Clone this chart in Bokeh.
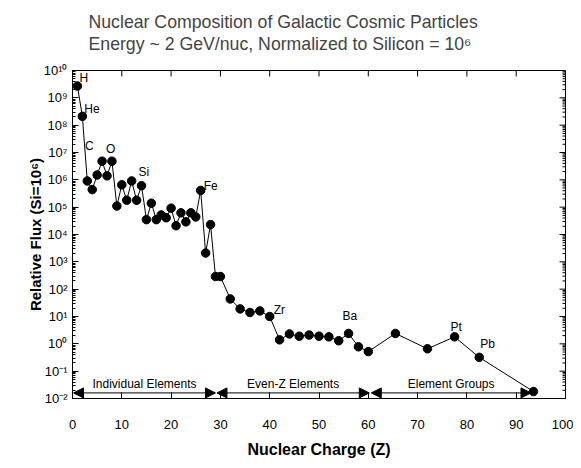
import math
from bokeh.plotting import figure
from bokeh.models import (ColumnDataSource, FixedTicker, Title,
                          Arrow, NormalHead, CustomJSTickFormatter)
from bokeh.embed import file_html
from bokeh.resources import INLINE
from bokeh.core.properties import value

# ---- data ----
charge = [1, 2, 3, 4, 5, 6, 7, 8, 9, 10, 11, 12, 13, 14, 15, 16, 17, 18, 19, 20,
          21, 22, 23, 24, 25, 26, 27, 28, 29, 30,
          32, 34, 36, 38, 40, 42, 44, 46, 48, 50, 52, 54, 56, 58, 60,
          65.5, 72, 77.5, 82.5, 93.5]
flux = [2.7e9, 2.1e8, 9.1e5, 4.4e5, 1.5e6, 4.8e6, 1.4e6, 4.8e6, 1.1e5, 6.6e5,
        1.8e5, 9.1e5, 1.8e5, 6.1e5, 3.5e4, 1.4e5, 3.5e4, 5.2e4, 4.1e4, 9.2e4,
        2.1e4, 6.2e4, 2.9e4, 6.2e4, 4.4e4, 4.1e5, 2.1e3, 2.3e4, 290, 290,
        44, 19, 14, 16, 10, 1.4, 2.3, 1.9, 2.1, 1.9, 1.8, 1.3, 2.4, 0.78, 0.52,
        2.4, 0.66, 1.8, 0.32, 0.018]

element_labels = ["H", "He", "C", "O", "Si", "Fe", "Zr", "Ba", "Pt", "Pb"]
element_charge = [1, 2, 6, 8, 14, 26, 40, 56, 77.5, 82.5]
element_flux = [2.7e9, 2.1e8, 4.8e6, 4.8e6, 6.1e5, 4.1e5, 10, 2.4, 1.8, 0.32]

region_names = ["Individual Elements", "Even-Z Elements", "Element Groups"]
region_start = [0.2, 29.3, 60.6]
region_end = [29.0, 60.2, 93.0]
region_level = [0.016, 0.016, 0.016]
region_text_level = [0.033, 0.033, 0.033]

x_ticks = [0, 10, 20, 30, 40, 50, 60, 70, 80, 90, 100]
y_exponents = list(range(-2, 11))

title_text = "Nuclear Composition of Galactic Cosmic Particles"
subtitle_text = "Energy ~ 2 GeV/nuc, Normalized to Silicon = 10\u2076"

FONT = "Liberation Sans"
X0, X1, Y0, Y1 = 0, 100, 1e-2, 1e10

p = figure(width=573, height=460, x_range=(X0, X1), y_range=(Y0, Y1),
           y_axis_type="log", output_backend="svg", toolbar_location=None,
           title=None, min_border_left=72, min_border_right=8,
           min_border_top=70, min_border_bottom=54)
p.background_fill_color = "white"
p.border_fill_color = "white"
p.outline_line_color = "black"
p.outline_line_width = 1
p.xgrid.visible = False
p.ygrid.visible = False

major_y = [10.0 ** e for e in y_exponents]
minor_y = [m * 10.0 ** e for e in y_exponents[:-1] for m in range(2, 10)]
yticker = FixedTicker(ticks=major_y, minor_ticks=minor_y)
xticker = FixedTicker(ticks=x_ticks)

sup_js = """
const m = {"-":"\u207b","0":"\u2070","1":"\u00b9","2":"\u00b2","3":"\u00b3","4":"\u2074",
           "5":"\u2075","6":"\u2076","7":"\u2077","8":"\u2078","9":"\u2079"};
const e = Math.round(Math.log10(tick));
return "10" + String(e).split("").map(c => m[c]).join("");
"""

xa = p.xaxis[0]
xa.ticker = xticker
xa.axis_label = "Nuclear Charge (Z)"
ya = p.yaxis[0]
ya.ticker = yticker
ya.formatter = CustomJSTickFormatter(code=sup_js)
ya.axis_label = "Relative Flux (Si=10\u2076)"

for ax in (xa, ya):
    ax.major_tick_in = 6
    ax.major_tick_out = 0
    ax.minor_tick_in = 3
    ax.minor_tick_out = 0
    ax.axis_line_color = "black"
    ax.major_tick_line_color = "black"
    ax.minor_tick_line_color = "black"
    ax.major_label_text_font = FONT
    ax.major_label_text_font_size = "13px"
    ax.major_label_text_color = "black"
    ax.axis_label_text_font = FONT
    ax.axis_label_text_font_style = "bold"
    ax.axis_label_text_color = "black"
xa.minor_tick_line_color = None
xa.axis_label_text_font_size = "16px"
ya.axis_label_text_font_size = "15px"
xa.major_label_standoff = 21
xa.axis_label_standoff = 9
ya.major_label_standoff = 5
ya.axis_label_standoff = -3

# mirrored inward ticks on the top and right edges (half of each dash is clipped)
p.scatter(x=x_ticks, y=[Y1] * len(x_ticks), marker="dash", size=12,
          angle=math.pi / 2, line_color="black", line_width=1)
p.scatter(x=[X1] * len(major_y), y=major_y, marker="dash", size=12,
          line_color="black", line_width=1)
p.scatter(x=[X1] * len(minor_y), y=minor_y, marker="dash", size=6,
          line_color="black", line_width=1)

# two-line title; the trailing empty line keeps a gap above the frame
p.add_layout(Title(text=title_text + "\n" + subtitle_text + "\n",
                   text_font=FONT, text_font_size="17.7px", text_font_style="normal",
                   text_line_height=1.1, align="left", offset=16, standoff=-10),
             "above")

src = ColumnDataSource(dict(x=charge, y=flux))
p.line("x", "y", source=src, line_color="black", line_width=1)
p.scatter("x", "y", source=src, size=8.5, fill_color="black", line_color="black")

lab = ColumnDataSource(dict(x=element_charge, y=element_flux, t=element_labels,
                            dx=[2, 2, -17, -6, -3, 3, 4, -6, -4, 1],
                            dy=[-8, -7, -15, -12, -14, -4, -7, -17, -10, -13]))
p.text("x", "y", text="t", source=lab, x_offset="dx", y_offset="dy",
       text_font=value(FONT), text_font_size="12px", text_color="black",
       text_baseline="middle", text_align="left")

reg = ColumnDataSource(dict(x0=region_start, x1=region_end, y=region_level,
                            yt=region_text_level, t=region_names,
                            xm=[(a + b) / 2 for a, b in zip(region_start, region_end)]))
p.add_layout(Arrow(source=reg, x_start="x0", y_start="y", x_end="x1", y_end="y",
                   line_color="black", line_width=1,
                   start=NormalHead(size=10, fill_color="black", line_color="black"),
                   end=NormalHead(size=10, fill_color="black", line_color="black")))
p.text("xm", "yt", text="t", source=reg, text_font=value(FONT),
       text_font_size="12px", text_color="black", text_align="center",
       text_baseline="middle")

open("out.html", "w").write(file_html(p, INLINE))
